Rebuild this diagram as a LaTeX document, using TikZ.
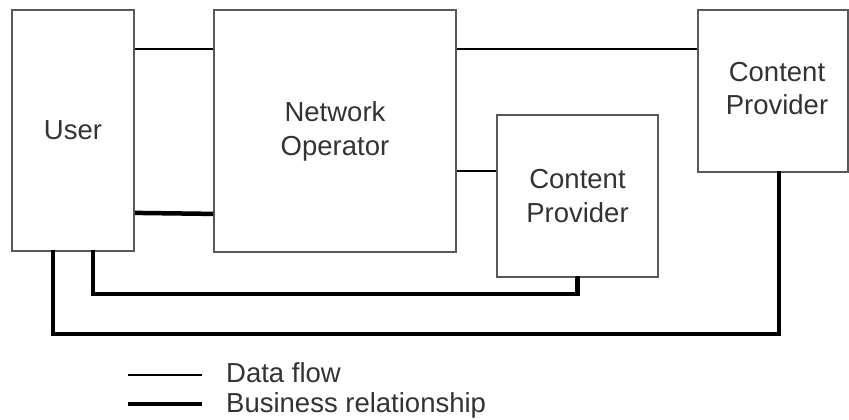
\documentclass[tikz,border=0pt]{standalone}
\usepackage{fontspec}
\setmainfont{Liberation Sans}
\begin{document}
\begin{tikzpicture}[x=1pt,y=1pt,
  box/.style={draw=black!65, line width=1.8pt, fill=white, text=black!80, align=center, font=\fontsize{27.5}{34}\selectfont, inner sep=0pt},
  thin/.style={draw=black, line width=1.4pt},
  thick/.style={draw=black, line width=4.5pt},
  legtext/.style={anchor=base west, text=black!80, font=\fontsize{27.5}{32}\selectfont, inner sep=0pt}]
\fill[white] (0,0) rectangle (849,-420);
\useasboundingbox (0,0) rectangle (849,-420);
% boxes
\node[box, minimum width=122, minimum height=241] (user) at (73,-130.5) {User};
\node[box, minimum width=150, minimum height=162] (cpa) at (773,-91) {\raisebox{2pt}{\begin{tabular}{@{}c@{}}\hspace*{8pt}Content\\[-1pt]\hspace*{8pt}Provider\end{tabular}}};
\node[box, minimum width=242, minimum height=242] (no) at (335,-131) {Network\\Operator};
\node[box, minimum width=161, minimum height=162] (cpb) at (577.5,-196) {Content\\Provider};
% data flow
\coordinate (nocp) at ([yshift=-57]cpb.north west);
\draw[thin] ([yshift=-40]user.north east) -- ([yshift=-40]no.north west);
\draw[thin] ([yshift=-40]no.north east) -- ([yshift=-40]cpa.north west);
\draw[thin] (nocp) -- (no.east |- nocp);
% business
\draw[thick] ([yshift=39]user.south east) -- ([yshift=39]no.south west);
\draw[thick, line cap=rect] ([xshift=20]user.south) -- ++(0,-42) -| (cpb.south);
\draw[thick, line cap=rect] ([xshift=-20]user.south) -- ++(0,-82) -| ([xshift=6]cpa.south);
% legend
\coordinate (la) at (128,-375);
\coordinate (lb) at (202,-375);
\coordinate (lc) at (128,-404);
\coordinate (ld) at (202,-404);
\draw[thin] (la) -- (lb);
\draw[thick] (lc) -- (ld);
\node[legtext] (t1) at (226,-382) {Data flow};
\node[legtext] (t2) at (226,-412) {Business relationship};
\end{tikzpicture}
\end{document}
